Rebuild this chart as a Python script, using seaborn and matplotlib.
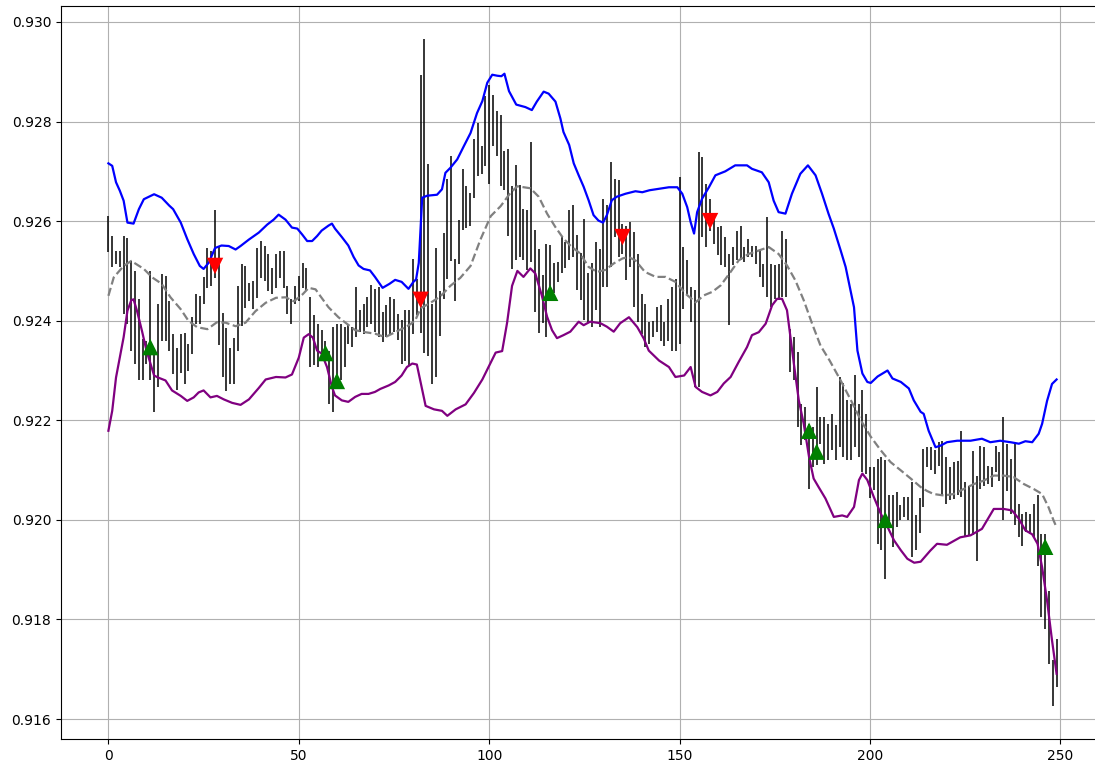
import numpy as np
import pandas as pd
import matplotlib
matplotlib.use("Agg")
import matplotlib.pyplot as plt
import seaborn as sns

# Per-bar price range (high / low) for 250 sessions
high = [
    .92611, .92571, .92540, .92540, .92571, .92567, .92520, .92500, .92443, .92363,
    .92360, .92500, .92346, .92433, .92494, .92490, .92440, .92373, .92346, .92373,
    .92376, .92353, .92407, .92453, .92450, .92487, .92546, .92540, .92623, .92550,
    .92416, .92386, .92346, .92366, .92470, .92513, .92510, .92476, .92480, .92546,
    .92560, .92550, .92533, .92506, .92533, .92540, .92540, .92470, .92443, .92470,
    .92490, .92516, .92506, .92447, .92411, .92394, .92381, .92360, .92340, .92387,
    .92394, .92394, .92387, .92394, .92387, .92468, .92421, .92434, .92447, .92471,
    .92464, .92468, .92417, .92431, .92447, .92443, .92414, .92401, .92421, .92421,
    .92524, .92484, .92894, .92965, .92714, .92433, .92546, .92459, .92577, .92684,
    .92730, .92523, .92603, .92704, .92670, .92657, .92764, .92797, .92750, .92851,
    .92874, .92854, .92821, .92814, .92740, .92744, .92670, .92712, .92672, .92625,
    .92622, .92759, .92582, .92545, .92492, .92555, .92552, .92515, .92518, .92569,
    .92559, .92622, .92632, .92572, .92535, .92605, .92495, .92515, .92558, .92545,
    .92645, .92632, .92719, .92685, .92682, .92595, .92591, .92598, .92578, .92534,
    .92454, .92434, .92397, .92400, .92427, .92431, .92397, .92444, .92468, .92484,
    .92688, .92548, .92521, .92468, .92461, .92738, .92728, .92675, .92645, .92608,
    .92588, .92591, .92568, .92534, .92548, .92581, .92591, .92548, .92565, .92551,
    .92551, .92541, .92514, .92608, .92514, .92511, .92514, .92581, .92565, .92384,
    .92367, .92337, .92233, .92227, .92193, .92187, .92267, .92207, .92207, .92193,
    .92213, .92190, .92287, .92274, .92240, .92233, .92290, .92233, .92260, .92213,
    .92106, .92106, .92123, .92126, .92120, .92049, .92049, .92056, .92029, .92046,
    .92046, .92076, .92009, .92043, .92143, .92146, .92146, .92140, .92156, .92159,
    .92126, .92106, .92116, .92119, .92179, .92076, .92069, .92139, .92089, .92149,
    .92146, .92109, .92106, .92149, .92136, .92206, .92152, .92122, .92156, .92032,
    .92012, .92015, .92012, .92032, .92049, .91972, .91972, .91858, .91718, .91761,
]
low = [
    .92537, .92507, .92514, .92507, .92413, .92393, .92340, .92313, .92280, .92280,
    .92313, .92280, .92216, .92266, .92360, .92360, .92340, .92293, .92260, .92296,
    .92273, .92300, .92333, .92393, .92393, .92433, .92466, .92470, .92486, .92352,
    .92286, .92259, .92272, .92272, .92339, .92389, .92426, .92439, .92423, .92446,
    .92486, .92480, .92460, .92453, .92466, .92486, .92466, .92413, .92393, .92433,
    .92440, .92466, .92460, .92307, .92311, .92307, .92334, .92327, .92233, .92217,
    .92267, .92280, .92307, .92354, .92347, .92367, .92377, .92374, .92387, .92394,
    .92377, .92367, .92357, .92367, .92374, .92377, .92361, .92314, .92320, .92310,
    .92374, .92411, .92376, .92336, .92329, .92272, .92286, .92369, .92443, .92483,
    .92520, .92439, .92513, .92583, .92587, .92590, .92647, .92690, .92694, .92710,
    .92674, .92750, .92730, .92670, .92663, .92570, .92503, .92522, .92528, .92522,
    .92502, .92518, .92418, .92375, .92395, .92368, .92441, .92455, .92478, .92495,
    .92505, .92522, .92528, .92462, .92441, .92401, .92395, .92388, .92421, .92388,
    .92468, .92468, .92508, .92568, .92528, .92534, .92481, .92508, .92427, .92397,
    .92374, .92347, .92354, .92367, .92377, .92360, .92350, .92360, .92340, .92340,
    .92354, .92424, .92454, .92397, .92267, .92267, .92568, .92548, .92581, .92555,
    .92531, .92511, .92508, .92391, .92511, .92521, .92521, .92518, .92528, .92528,
    .92514, .92488, .92468, .92447, .92427, .92444, .92441, .92447, .92447, .92297,
    .92280, .92187, .92150, .92160, .92063, .92106, .92110, .92153, .92113, .92120,
    .92140, .92120, .92146, .92126, .92120, .92120, .92146, .92126, .92096, .92093,
    .92043, .92060, .91952, .91939, .91882, .91983, .91946, .91986, .91999, .92006,
    .91999, .91926, .91939, .91973, .92026, .92106, .92100, .92093, .92109, .92049,
    .92032, .92039, .92042, .92049, .92045, .91965, .91969, .91969, .91918, .92062,
    .92069, .92072, .92066, .92096, .92079, .91999, .92059, .92012, .91989, .91965,
    .91948, .91975, .91972, .91965, .91908, .91805, .91781, .91711, .91627, .91664,
]

# Upper band
upper_x = [
    0, 1, 2, 3, 4, 5, 6.6, 8, 9.3, 12, 14, 16, 17, 19, 20.7, 22.4, 24, 25, 26.4, 28,
    29.7, 31.6, 33.4, 34.7, 36.9, 39.5, 41.7, 43.4, 44.7, 46.5, 48.2, 49.6, 50.9, 52.2,
    53.5, 54.8, 56, 57.8, 58.7, 59.5, 61.3, 63, 64.4, 65.7, 67, 68.7, 70, 72, 73.8, 75.3,
    77, 78.8, 80.1, 80.8, 81.5, 82.4, 83.7, 86.3, 87.6, 88.5, 89.8, 91.6, 93.3, 95.1,
    96.8, 98.2, 99.5, 100.8, 102.1, 103.2, 104, 105.2, 107.1, 109.5, 111.2, 112.5,
    114.3, 115.6, 117.4, 118.7, 119.5, 121, 122.2, 123.5, 124.8, 126.1, 127.4, 128.7,
    129.9, 130.9, 132.2, 133.5, 135.8, 138.4, 140.2, 142.1, 144.6, 147.2, 149.4, 150.7,
    152, 152.9, 153.8, 154.6, 155.9, 157.7, 159.4, 162, 164.6, 167.7, 169, 171.6, 173.4,
    174.7, 176, 177.8, 179.5, 181.7, 183.7, 185.7, 187.4, 189.1, 190.5, 192.3, 193.6,
    195.8, 196.7, 198, 199.3, 200.2, 202, 204.6, 205.9, 208.1, 210.2, 211.5, 213.3,
    214.1, 215.4, 217.2, 218.5, 220.2, 222.9, 226.4, 229.4, 231.6, 234.2, 236.9, 239.1,
    240.8, 242.6, 244.3, 245.2, 246.5, 247.8, 249,
]
upper_y = [
    .92716, .92711, .92678, .92661, .92641, .92597, .92595, .92624, .92644, .92654,
    .92647, .92631, .92624, .92597, .92564, .92534, .92510, .92504, .92517, .92546,
    .92551, .92550, .92543, .92550, .92563, .92577, .92593, .92603, .92613, .92603,
    .92587, .92585, .92573, .92560, .92560, .92570, .92581, .92591, .92595, .92585,
    .92568, .92551, .92528, .92511, .92504, .92501, .92488, .92466, .92474, .92482,
    .92478, .92464, .92478, .92483, .92516, .92647, .92651, .92653, .92664, .92697,
    .92707, .92724, .92750, .92777, .92817, .92841, .92878, .92894, .92892, .92891,
    .92896, .92861, .92834, .92829, .92823, .92840, .92860, .92856, .92840, .92806,
    .92779, .92753, .92716, .92692, .92669, .92642, .92612, .92601, .92597, .92612,
    .92642, .92649, .92655, .92660, .92658, .92662, .92665, .92668, .92668, .92655,
    .92628, .92598, .92575, .92618, .92645, .92668, .92692, .92700, .92712, .92712,
    .92705, .92698, .92678, .92641, .92618, .92615, .92655, .92695, .92712, .92692,
    .92655, .92615, .92585, .92541, .92508, .92427, .92340, .92294, .92277, .92275,
    .92288, .92300, .92284, .92277, .92264, .92240, .92217, .92213, .92179, .92146,
    .92149, .92156, .92159, .92159, .92163, .92156, .92159, .92156, .92153, .92158,
    .92156, .92173, .92193, .92239, .92273, .92282,
]

# Middle band
middle_x = [
    0, 1.4, 4, 6, 9.3, 11.5, 14, 16.3, 19, 21, 23.3, 26, 28.5, 30.8, 33.4, 36, 38.6,
    41.3, 44, 46.5, 48.7, 51, 52.6, 54.4, 55.7, 57.8, 60.4, 62.6, 64.8, 67.4, 70, 72.7,
    75.3, 78, 79.3, 80.6, 82, 84.6, 87.2, 89.8, 92.4, 95.1, 97.7, 100.4, 103, 105.6,
    107.4, 110.8, 113, 115.2, 117.3, 119.5, 121.7, 123.9, 126.1, 128.3, 130.5, 132.7,
    135, 136.6, 138.4, 140.9, 143.7, 146.3, 148.9, 151.6, 154.2, 156.4, 158.6, 160.8,
    163.4, 165.5, 168.1, 170.8, 173.4, 176, 178.2, 180.4, 182.6, 184.8, 187, 189.4,
    192.3, 195, 197.6, 200.2, 202.8, 205.4, 208, 210.7, 213.3, 215, 216.7, 219.4, 222,
    224.6, 227.3, 229.9, 232.5, 235.1, 237.7, 240.4, 243, 245.2, 246.9, 248.2, 249,
]
middle_y = [
    .92450, .92487, .92510, .92520, .92504, .92487, .92474, .92447, .92423, .92400,
    .92387, .92383, .92397, .92396, .92389, .92396, .92419, .92436, .92446, .92447,
    .92439, .92453, .92466, .92463, .92449, .92427, .92407, .92394, .92381, .92377,
    .92374, .92367, .92377, .92387, .92393, .92401, .92425, .92436, .92449, .92470,
    .92486, .92510, .92563, .92610, .92630, .92657, .92670, .92666, .92649, .92615,
    .92589, .92565, .92548, .92535, .92508, .92498, .92502, .92515, .92525, .92528,
    .92521, .92498, .92488, .92488, .92478, .92454, .92437, .92451, .92458, .92471,
    .92498, .92521, .92534, .92541, .92548, .92534, .92511, .92481, .92441, .92394,
    .92350, .92320, .92280, .92240, .92200, .92167, .92140, .92116, .92100, .92083,
    .92066, .92058, .92052, .92049, .92052, .92062, .92072, .92079, .92089, .92089,
    .92086, .92072, .92062, .92052, .92025, .91999, .91985,
]

# Lower band
lower_x = [
    0, 1, 2, 3, 4, 5, 6, 6.6, 7.5, 8.8, 10, 12, 13, 15, 16.7, 19, 20.7, 22.4, 23.7, 25,
    26.8, 28.5, 30.3, 32.5, 34.7, 36.9, 39.5, 41.3, 44, 46.5, 48.2, 50, 51.3, 52.6,
    53.7, 54.8, 56, 57.4, 58.7, 59.5, 61.3, 63, 64.8, 66.5, 68.3, 70, 71.4, 73.6, 75.3,
    77, 78.4, 79.8, 81, 82.4, 83.3, 85.5, 87.6, 89, 91.2, 93.8, 96, 98.2, 100.4, 101.7,
    103.4, 104.7, 106, 107.4, 109, 110.8, 112.1, 113.8, 115.2, 116.5, 117.8, 119.5,
    121.3, 123.5, 124.8, 126.5, 129.2, 130.9, 132.7, 134.4, 136.7, 138.9, 140.6, 141.9,
    144.6, 147.2, 148.9, 151.2, 152.9, 154.2, 155.9, 158.1, 159.9, 161.6, 163.4, 165.5,
    167.7, 169, 170.8, 172.6, 174.3, 175.6, 176.9, 178.2, 179.1, 180, 181.3, 182.6, 184,
    185.2, 186.5, 188.3, 190.5, 192.7, 194, 195.8, 197.1, 198, 199.3, 201, 202.8, 204.6,
    206.3, 208.1, 209.8, 211.6, 213.3, 215.8, 217.6, 220.2, 223.7, 226.4, 229.4, 231.2,
    232.5, 235.1, 237.3, 239.1, 240.8, 242.6, 244, 245.2, 246.5, 247.8, 249,
]
lower_y = [
    .92179, .92219, .92286, .92326, .92367, .92420, .92441, .92443, .92420, .92380,
    .92340, .92290, .92286, .92280, .92260, .92249, .92239, .92246, .92256, .92260,
    .92246, .92249, .92242, .92235, .92231, .92242, .92265, .92282, .92287, .92286,
    .92292, .92326, .92366, .92373, .92366, .92340, .92334, .92307, .92267, .92250,
    .92240, .92237, .92247, .92253, .92253, .92257, .92263, .92270, .92277, .92290,
    .92307, .92314, .92312, .92262, .92229, .92222, .92219, .92209, .92222, .92232,
    .92255, .92282, .92316, .92336, .92339, .92396, .92470, .92500, .92488, .92505,
    .92495, .92451, .92408, .92381, .92365, .92371, .92378, .92398, .92391, .92398,
    .92395, .92388, .92378, .92395, .92407, .92387, .92364, .92340, .92320, .92307,
    .92287, .92290, .92307, .92267, .92257, .92250, .92257, .92274, .92287, .92317,
    .92347, .92371, .92377, .92394, .92431, .92444, .92444, .92421, .92367, .92314,
    .92240, .92193, .92126, .92083, .92066, .92043, .92006, .92009, .92006, .92026,
    .92080, .92093, .92080, .92046, .92013, .91986, .91959, .91939, .91922, .91914,
    .91916, .91938, .91952, .91950, .91965, .91969, .91982, .92005, .92022, .92022,
    .92019, .92002, .91979, .91971, .91952, .91905, .91838, .91758, .91691,
]

# Entry signals
buy_x = [11, 57, 60, 116, 184, 186, 204, 246]
buy_y = [.92347, .92335, .92279, .92456, .92179, .92137, .92000, .91946]
sell_x = [28, 82, 135, 158]
sell_y = [.92510, .92442, .92568, .92600]

bars = pd.DataFrame({"t": np.arange(len(high)), "high": high, "low": low})

fig = plt.figure(figsize=(10.95, 7.66), dpi=100)
ax = fig.add_axes([61 / 1095, 1 - 739 / 766, 1043 / 1095, 733 / 766])

ax.vlines(bars["t"], bars["low"], bars["high"], color="black", linewidth=1.1, zorder=2)

sns.lineplot(x=upper_x, y=upper_y, ax=ax, color="blue", linewidth=1.6,
             estimator=None, zorder=3)
sns.lineplot(x=middle_x, y=middle_y, ax=ax, color="gray", linewidth=1.6,
             linestyle="--", estimator=None, zorder=3)
sns.lineplot(x=lower_x, y=lower_y, ax=ax, color="purple", linewidth=1.6,
             estimator=None, zorder=3)

sns.scatterplot(x=buy_x, y=buy_y, ax=ax, marker="^", s=140, color="green",
                edgecolor="none", zorder=4)
sns.scatterplot(x=sell_x, y=sell_y, ax=ax, marker="v", s=140, color="red",
                edgecolor="none", zorder=4)

ax.set_xlim(-12.45, 261.45)
ax.set_ylim(0.91560, 0.93032)
ax.set_xticks([0, 50, 100, 150, 200, 250])
ax.set_yticks(np.arange(0.916, 0.9301, 0.002))
ax.yaxis.set_major_formatter(matplotlib.ticker.FormatStrFormatter("%.3f"))
ax.grid(True, color="#b0b0b0", linewidth=0.8)
ax.set_axisbelow(True)
ax.set_xlabel("")
ax.set_ylabel("")
ax.tick_params(labelsize=10)

fig.savefig("out.png", dpi=100)
